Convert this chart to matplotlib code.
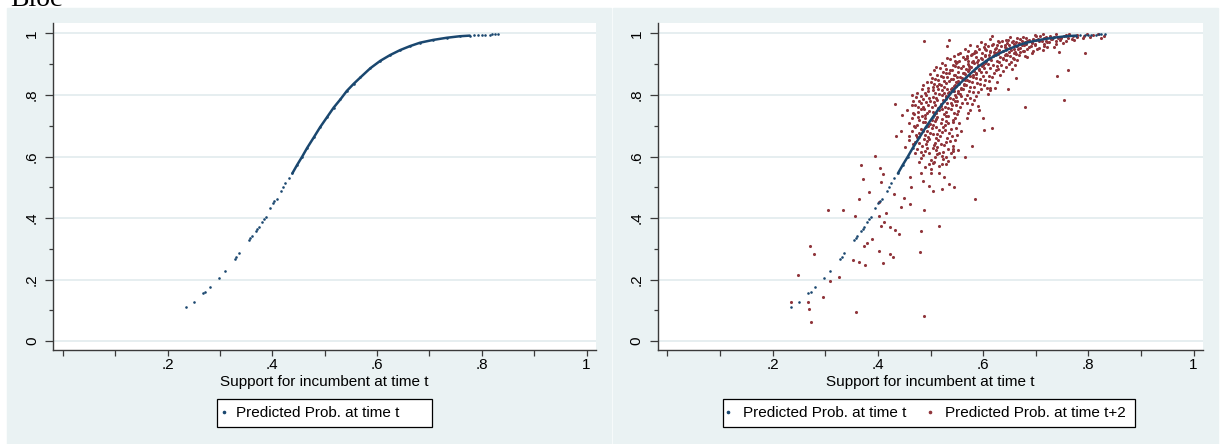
import numpy as np
import matplotlib
matplotlib.use("Agg")
import matplotlib.pyplot as plt
from matplotlib.patches import Rectangle
from matplotlib.lines import Line2D

# predicted prob. at time t (same curve in both panels)
blue_sparse_x = [0.2355, 0.250, 0.268, 0.272, 0.281, 0.298, 0.309, 0.328, 0.331, 0.336,
                 0.355, 0.358, 0.361, 0.368, 0.371, 0.374, 0.380, 0.384, 0.387, 0.395,
                 0.401, 0.404, 0.408, 0.417, 0.421, 0.425, 0.431,
                 0.785, 0.793, 0.800, 0.806, 0.815, 0.820, 0.825, 0.831]
blue_sparse_y = [0.110, 0.128, 0.155, 0.160, 0.177, 0.206, 0.229, 0.267, 0.272, 0.285,
                 0.329, 0.334, 0.341, 0.359, 0.365, 0.372, 0.388, 0.396, 0.404, 0.431,
                 0.448, 0.455, 0.462, 0.489, 0.500, 0.513, 0.529,
                 0.994, 0.995, 0.995, 0.996, 0.996, 0.997, 0.997, 0.997]
blue_dense_x = [0.438, 0.447, 0.457, 0.466, 0.479, 0.491, 0.504, 0.517, 0.530, 0.542,
                0.555, 0.568, 0.587, 0.606, 0.625, 0.644, 0.663, 0.682, 0.707, 0.733,
                0.758, 0.777]
blue_dense_y = [0.545, 0.572, 0.600, 0.627, 0.662, 0.695, 0.727, 0.759, 0.786, 0.813,
                0.836, 0.857, 0.887, 0.911, 0.930, 0.946, 0.959, 0.970, 0.979, 0.986,
                0.991, 0.993]

# predicted prob. at time t+2 : scattered points
red_x = [0.487, 0.536, 0.531, 0.617, 0.794, 0.745, 0.740, 0.761, 0.753, 0.680,
         0.648, 0.662, 0.616, 0.602, 0.600, 0.584, 0.566, 0.579, 0.553, 0.544,
         0.535, 0.522, 0.526, 0.517, 0.505, 0.498, 0.487, 0.481, 0.480, 0.487,
         0.461, 0.449, 0.462, 0.444, 0.430, 0.416, 0.395, 0.410, 0.404, 0.368,
         0.371, 0.384, 0.365, 0.357, 0.334, 0.306, 0.403, 0.405, 0.412, 0.423,
         0.432, 0.441, 0.388, 0.379, 0.374, 0.402, 0.423, 0.428, 0.409, 0.376,
         0.365, 0.353, 0.358, 0.326, 0.309, 0.295, 0.271, 0.279, 0.248, 0.234,
         0.267, 0.269, 0.273, 0.403, 0.406, 0.433, 0.445, 0.434, 0.444, 0.465,
         0.451, 0.461, 0.481, 0.486, 0.500, 0.516, 0.505, 0.533, 0.542, 0.544,
         0.530, 0.571, 0.575, 0.591, 0.592, 0.570, 0.554, 0.609, 0.623, 0.613]
red_y = [0.977, 0.979, 0.960, 0.993, 0.938, 0.941, 0.863, 0.881, 0.783, 0.762,
         0.818, 0.854, 0.694, 0.685, 0.724, 0.461, 0.600, 0.635, 0.621, 0.500,
         0.511, 0.493, 0.534, 0.374, 0.487, 0.505, 0.425, 0.358, 0.291, 0.082,
         0.447, 0.465, 0.500, 0.435, 0.478, 0.417, 0.602, 0.542, 0.562, 0.571,
         0.527, 0.485, 0.461, 0.408, 0.425, 0.425, 0.406, 0.374, 0.388, 0.372,
         0.361, 0.347, 0.332, 0.320, 0.310, 0.294, 0.283, 0.272, 0.254, 0.247,
         0.256, 0.263, 0.095, 0.207, 0.196, 0.144, 0.310, 0.284, 0.214, 0.128,
         0.128, 0.105, 0.062, 0.453, 0.516, 0.771, 0.735, 0.667, 0.682, 0.801,
         0.632, 0.534, 0.547, 0.521, 0.546, 0.546, 0.578, 0.625, 0.617, 0.597,
         0.575, 0.740, 0.751, 0.765, 0.751, 0.724, 0.708, 0.803, 0.822, 0.822]

# dense cloud near the top of the curve, read row by row
cloud_x = [
    0.698, 0.709, 0.714, 0.727, 0.739, 0.744, 0.757, 0.763, 0.771, 0.779, 0.792, 0.797, 0.809, 0.818, 0.829,
    0.651, 0.664, 0.676, 0.681, 0.694, 0.701, 0.716, 0.719, 0.731, 0.734, 0.748, 0.753, 0.762, 0.769, 0.779, 0.789, 0.804, 0.825,
    0.613, 0.636, 0.648, 0.657, 0.671, 0.673, 0.687, 0.692, 0.704, 0.711, 0.719, 0.729, 0.738, 0.747, 0.758, 0.772,
    0.596, 0.619, 0.631, 0.642, 0.655, 0.658, 0.669, 0.677, 0.679, 0.692, 0.698, 0.706, 0.715, 0.726, 0.738, 0.752,
    0.575, 0.601, 0.609, 0.625, 0.627, 0.641, 0.649, 0.651, 0.664, 0.671, 0.673, 0.688, 0.691, 0.707, 0.716, 0.735,
    0.566, 0.584, 0.603, 0.606, 0.621, 0.623, 0.637, 0.644, 0.653, 0.661, 0.667, 0.678, 0.684, 0.695, 0.713,
    0.557, 0.579, 0.587, 0.597, 0.611, 0.613, 0.628, 0.629, 0.643, 0.646, 0.659, 0.668, 0.671, 0.692,
    0.545, 0.562, 0.577, 0.586, 0.596, 0.604, 0.611, 0.621, 0.633, 0.638, 0.652, 0.657, 0.679, 0.684,
    0.537, 0.546, 0.566, 0.572, 0.588, 0.591, 0.606, 0.609, 0.626, 0.631, 0.644, 0.653, 0.664,
    0.522, 0.543, 0.551, 0.571, 0.574, 0.583, 0.599, 0.603, 0.619, 0.627, 0.649, 0.661,
    0.511, 0.530, 0.547, 0.558, 0.568, 0.577, 0.593, 0.597, 0.613, 0.624, 0.643, 0.655,
    0.507, 0.524, 0.541, 0.552, 0.562, 0.571, 0.586, 0.592, 0.605, 0.621, 0.637,
    0.499, 0.519, 0.535, 0.547, 0.557, 0.566, 0.575, 0.587, 0.600, 0.616, 0.633,
    0.503, 0.514, 0.531, 0.538, 0.553, 0.559, 0.569, 0.580, 0.594, 0.612,
    0.494, 0.506, 0.526, 0.530, 0.546, 0.548, 0.563, 0.573, 0.588, 0.601, 0.626,
    0.486, 0.505, 0.519, 0.526, 0.541, 0.544, 0.558, 0.564, 0.583, 0.596,
    0.483, 0.495, 0.514, 0.521, 0.535, 0.539, 0.553, 0.558, 0.574, 0.590, 0.614,
    0.474, 0.491, 0.509, 0.516, 0.529, 0.534, 0.547, 0.553, 0.569, 0.586,
    0.473, 0.486, 0.504, 0.511, 0.524, 0.529, 0.543, 0.549, 0.565, 0.582,
    0.466, 0.482, 0.499, 0.506, 0.519, 0.525, 0.539, 0.546, 0.560, 0.578,
    0.464, 0.477, 0.495, 0.502, 0.515, 0.520, 0.534, 0.541, 0.556,
    0.456, 0.476, 0.487, 0.498, 0.511, 0.516, 0.530, 0.538, 0.553,
    0.468, 0.483, 0.494, 0.507, 0.512, 0.526, 0.534, 0.550,
    0.464, 0.479, 0.490, 0.503, 0.508, 0.522, 0.530, 0.546,
    0.460, 0.475, 0.486, 0.499, 0.505, 0.519, 0.527, 0.543,
    0.470, 0.482, 0.496, 0.502, 0.516, 0.524, 0.538,
    0.465, 0.478, 0.493, 0.499, 0.513, 0.521, 0.535, 0.558,
    0.460, 0.474, 0.490, 0.496, 0.510, 0.518, 0.532, 0.550,
    0.459, 0.470, 0.487, 0.494, 0.508, 0.515, 0.529, 0.546,
    0.466, 0.484, 0.492, 0.506, 0.513, 0.526, 0.543,
    0.474, 0.489, 0.504, 0.511, 0.524, 0.542,
    0.470, 0.486, 0.498, 0.513, 0.522, 0.539,
    0.482, 0.500, 0.508, 0.524, 0.533,
    0.478, 0.497, 0.506, 0.522,
    0.490, 0.501, 0.516,
]
cloud_y = [
    0.996, 0.992, 0.999, 0.993, 0.997, 0.990, 0.995, 0.999, 0.993, 0.996, 0.991, 0.998, 0.994, 0.997, 0.992,
    0.989, 0.984, 0.990, 0.986, 0.983, 0.991, 0.985, 0.989, 0.982, 0.988, 0.984, 0.991, 0.986, 0.983, 0.990, 0.985, 0.988, 0.986,
    0.981, 0.975, 0.980, 0.974, 0.982, 0.976, 0.979, 0.973, 0.981, 0.977, 0.974, 0.983, 0.976, 0.980, 0.975, 0.979,
    0.972, 0.966, 0.971, 0.964, 0.973, 0.967, 0.970, 0.963, 0.972, 0.968, 0.965, 0.974, 0.967, 0.971, 0.966, 0.970,
    0.962, 0.955, 0.960, 0.953, 0.963, 0.957, 0.961, 0.954, 0.958, 0.952, 0.963, 0.956, 0.960, 0.954, 0.959, 0.957,
    0.950, 0.944, 0.951, 0.945, 0.940, 0.949, 0.943, 0.952, 0.946, 0.941, 0.950, 0.944, 0.948, 0.942, 0.946,
    0.938, 0.933, 0.941, 0.935, 0.930, 0.939, 0.932, 0.940, 0.934, 0.929, 0.937, 0.931, 0.940, 0.935,
    0.928, 0.922, 0.930, 0.924, 0.919, 0.927, 0.921, 0.929, 0.923, 0.918, 0.926, 0.921, 0.928, 0.924,
    0.916, 0.910, 0.918, 0.912, 0.907, 0.915, 0.909, 0.917, 0.911, 0.906, 0.914, 0.908, 0.913,
    0.904, 0.898, 0.906, 0.900, 0.895, 0.903, 0.897, 0.905, 0.899, 0.894, 0.902, 0.897,
    0.892, 0.886, 0.894, 0.888, 0.883, 0.891, 0.885, 0.893, 0.887, 0.882, 0.890, 0.884,
    0.880, 0.874, 0.882, 0.876, 0.871, 0.879, 0.873, 0.881, 0.875, 0.870, 0.878,
    0.868, 0.862, 0.870, 0.864, 0.859, 0.867, 0.861, 0.869, 0.863, 0.858, 0.866,
    0.856, 0.850, 0.858, 0.852, 0.847, 0.855, 0.849, 0.857, 0.851, 0.846,
    0.843, 0.837, 0.845, 0.839, 0.834, 0.842, 0.836, 0.844, 0.838, 0.833, 0.841,
    0.831, 0.825, 0.833, 0.827, 0.822, 0.830, 0.824, 0.832, 0.826, 0.821,
    0.819, 0.813, 0.821, 0.815, 0.810, 0.818, 0.812, 0.820, 0.814, 0.809, 0.817,
    0.806, 0.800, 0.808, 0.802, 0.797, 0.805, 0.799, 0.807, 0.801, 0.796,
    0.793, 0.787, 0.795, 0.789, 0.784, 0.792, 0.786, 0.794, 0.788, 0.783,
    0.780, 0.774, 0.782, 0.776, 0.771, 0.779, 0.773, 0.781, 0.775, 0.770,
    0.766, 0.760, 0.768, 0.762, 0.757, 0.765, 0.759, 0.767, 0.761,
    0.752, 0.746, 0.754, 0.748, 0.743, 0.751, 0.745, 0.753, 0.747,
    0.738, 0.732, 0.740, 0.734, 0.729, 0.737, 0.731, 0.739,
    0.724, 0.718, 0.726, 0.720, 0.715, 0.723, 0.717, 0.725,
    0.710, 0.704, 0.712, 0.706, 0.701, 0.709, 0.703, 0.711,
    0.696, 0.690, 0.698, 0.692, 0.687, 0.695, 0.689,
    0.682, 0.676, 0.684, 0.678, 0.673, 0.681, 0.675, 0.683,
    0.668, 0.662, 0.670, 0.664, 0.659, 0.667, 0.661, 0.669,
    0.654, 0.648, 0.656, 0.650, 0.645, 0.653, 0.647, 0.655,
    0.640, 0.634, 0.642, 0.636, 0.631, 0.639, 0.633,
    0.625, 0.619, 0.627, 0.621, 0.616, 0.624,
    0.611, 0.605, 0.613, 0.607, 0.602, 0.610,
    0.596, 0.590, 0.598, 0.592, 0.587,
    0.581, 0.575, 0.583, 0.577,
    0.567, 0.561, 0.569,
]

# extra points filling the core of the cloud
core_x = [0.628, 0.644, 0.662, 0.683, 0.700, 0.722, 0.743,
          0.589, 0.604, 0.617, 0.634, 0.646, 0.660, 0.681, 0.699, 0.722,
          0.571, 0.592, 0.614, 0.631, 0.649, 0.658, 0.676, 0.702,
          0.552, 0.569, 0.582, 0.603, 0.618, 0.625, 0.641, 0.662,
          0.531, 0.554, 0.569, 0.581, 0.598, 0.615, 0.637, 0.659,
          0.528, 0.548, 0.561, 0.579, 0.591, 0.610, 0.634,
          0.518, 0.537, 0.553, 0.573, 0.583, 0.601, 0.629,
          0.513, 0.530, 0.545, 0.563, 0.581, 0.596, 0.611,
          0.508, 0.524, 0.542, 0.551, 0.565, 0.586, 0.603,
          0.500, 0.517, 0.535, 0.552, 0.567, 0.579, 0.594,
          0.495, 0.512, 0.531, 0.549, 0.561, 0.576, 0.607,
          0.489, 0.505, 0.526, 0.544, 0.557, 0.580,
          0.482, 0.498, 0.521, 0.537, 0.558, 0.575,
          0.478, 0.492, 0.513, 0.532, 0.551, 0.570,
          0.470, 0.486, 0.509, 0.527, 0.548,
          0.466, 0.481, 0.504, 0.522, 0.545,
          0.476, 0.490, 0.510, 0.529, 0.542,
          0.468, 0.489, 0.511, 0.533, 0.549,
          0.473, 0.486, 0.505, 0.527, 0.541,
          0.478, 0.497, 0.520, 0.537,
          0.481, 0.494, 0.517, 0.530]
core_y = [0.977, 0.979, 0.972, 0.975, 0.979, 0.973, 0.985,
          0.958, 0.966, 0.963, 0.960, 0.968, 0.962, 0.965, 0.961, 0.957,
          0.943, 0.948, 0.944, 0.947, 0.941, 0.948, 0.944, 0.950,
          0.933, 0.927, 0.935, 0.931, 0.926, 0.936, 0.930, 0.934,
          0.919, 0.912, 0.921, 0.910, 0.917, 0.913, 0.920, 0.916,
          0.897, 0.903, 0.895, 0.906, 0.899, 0.901, 0.896,
          0.887, 0.880, 0.891, 0.884, 0.877, 0.889, 0.883,
          0.866, 0.873, 0.864, 0.871, 0.866, 0.874, 0.862,
          0.853, 0.860, 0.851, 0.858, 0.848, 0.856, 0.850,
          0.842, 0.835, 0.847, 0.840, 0.834, 0.843, 0.837,
          0.823, 0.830, 0.820, 0.828, 0.818, 0.826, 0.824,
          0.808, 0.815, 0.806, 0.813, 0.804, 0.811,
          0.797, 0.791, 0.799, 0.790, 0.796, 0.789,
          0.782, 0.776, 0.784, 0.775, 0.781, 0.774,
          0.767, 0.761, 0.769, 0.760, 0.766,
          0.742, 0.755, 0.745, 0.753, 0.740,
          0.727, 0.736, 0.722, 0.733, 0.719,
          0.699, 0.713, 0.697, 0.708, 0.694,
          0.669, 0.684, 0.672, 0.686, 0.666,
          0.643, 0.657, 0.641, 0.652,
          0.615, 0.628, 0.612, 0.600]

x_ticks = [0, 0.1, 0.2, 0.3, 0.4, 0.5, 0.6, 0.7, 0.8, 0.9, 1.0]
x_ticklabels = ["", "", ".2", "", ".4", "", ".6", "", ".8", "", "1"]
y_ticks = [0, 0.2, 0.4, 0.6, 0.8, 1.0]
y_ticklabels = ["0", ".2", ".4", ".6", ".8", "1"]
y_minor = [0.1, 0.3, 0.5, 0.7, 0.9]

NAVY = "#1a476f"
MAROON = "#90353b"
BG = "#eaf2f3"
GRID = "#e4edef"

plt.rcParams["font.family"] = ["Liberation Sans", "DejaVu Sans"]
plt.rcParams["font.size"] = 11

W, H = 1221, 444
fig = plt.figure(figsize=(W / 100, H / 100), dpi=100)


def px_rect(x0, y0, x1, y1):
    return [x0 / W, 1 - y1 / H, (x1 - x0) / W, (y1 - y0) / H]


# panel backgrounds
for x0, x1 in [(7, 611), (613, 1218)]:
    fig.add_artist(Rectangle((x0 / W, 0), (x1 - x0) / W, (H - 8) / H,
                             transform=fig.transFigure, color=BG, zorder=0))

# title of the page above, cut off by the crop as in the original
fig.text(10 / W, 1 - 6 / H, "Bloc", family="Liberation Serif", fontsize=20,
         va="baseline", ha="left")


def style_axes(ax):
    ax.set_xlim(-0.019, 1.018)
    ax.set_ylim(-0.029, 1.034)
    for s in ["top", "right"]:
        ax.spines[s].set_visible(False)
    for s in ["left", "bottom"]:
        ax.spines[s].set_color("#3a3a3a")
        ax.spines[s].set_linewidth(1.0)
    ax.set_xticks(x_ticks)
    ax.set_xticklabels(x_ticklabels)
    ax.set_yticks(y_ticks)
    ax.set_yticklabels(y_ticklabels, rotation=90, va="center")
    ax.set_yticks(y_minor, minor=True)
    ax.tick_params(axis="x", length=4, width=0.9, pad=1.5, color="#3a3a3a")
    ax.tick_params(axis="y", which="major", length=6, width=0.9, pad=4, color="#3a3a3a")
    ax.tick_params(axis="y", which="minor", length=3, width=0.9, color="#3a3a3a")
    ax.yaxis.grid(True, which="major", color=GRID, linewidth=1.3)
    ax.set_axisbelow(True)
    ax.set_xlabel("Support for incumbent at time t")
    ax.xaxis.label.set_va("center")
    ax.xaxis.set_label_coords(0.5, (350 - 382) / 327)


def draw_blue(ax):
    ax.plot(blue_dense_x, blue_dense_y, color=NAVY, lw=1.8, zorder=4,
            solid_capstyle="round")
    ax.scatter(blue_sparse_x + blue_dense_x, blue_sparse_y + blue_dense_y,
               s=3.5, color=NAVY, linewidths=0, zorder=4)


def legend_box(x0, x1):
    fig.add_artist(Rectangle((x0 / W, 1 - 427 / H), (x1 - x0) / W, 28 / H,
                             transform=fig.transFigure, facecolor="white",
                             edgecolor="black", linewidth=0.9, zorder=1))


ax1 = fig.add_axes(px_rect(53, 23, 596, 350))
style_axes(ax1)
draw_blue(ax1)

ax2 = fig.add_axes(px_rect(657.5, 23, 1203, 350))
style_axes(ax2)
ax2.scatter(red_x + cloud_x + core_x, red_y + cloud_y + core_y, s=5,
            color=MAROON, linewidths=0, zorder=3)
draw_blue(ax2)

h_blue = Line2D([], [], ls="", marker="o", ms=1.6, color=NAVY, mec=NAVY)
h_red = Line2D([], [], ls="", marker="o", ms=1.6, color=MAROON, mec=MAROON)

legend_box(217, 432)
legend_box(723, 1135)

fig.legend([h_blue], ["Predicted Prob. at time t"], loc="center left",
           bbox_to_anchor=(221 / W, 1 - 413 / H), frameon=False, borderpad=0,
           borderaxespad=0, handlelength=0.4, handletextpad=0.6, fontsize=11)
fig.legend([h_blue, h_red], ["Predicted Prob. at time t", "Predicted Prob. at time t+2"],
           loc="center left", bbox_to_anchor=(725 / W, 1 - 413 / H), frameon=False,
           borderpad=0, borderaxespad=0, handlelength=0.4, handletextpad=0.75,
           columnspacing=1.4, ncol=2, fontsize=11)

fig.savefig("out.png", dpi=100)
